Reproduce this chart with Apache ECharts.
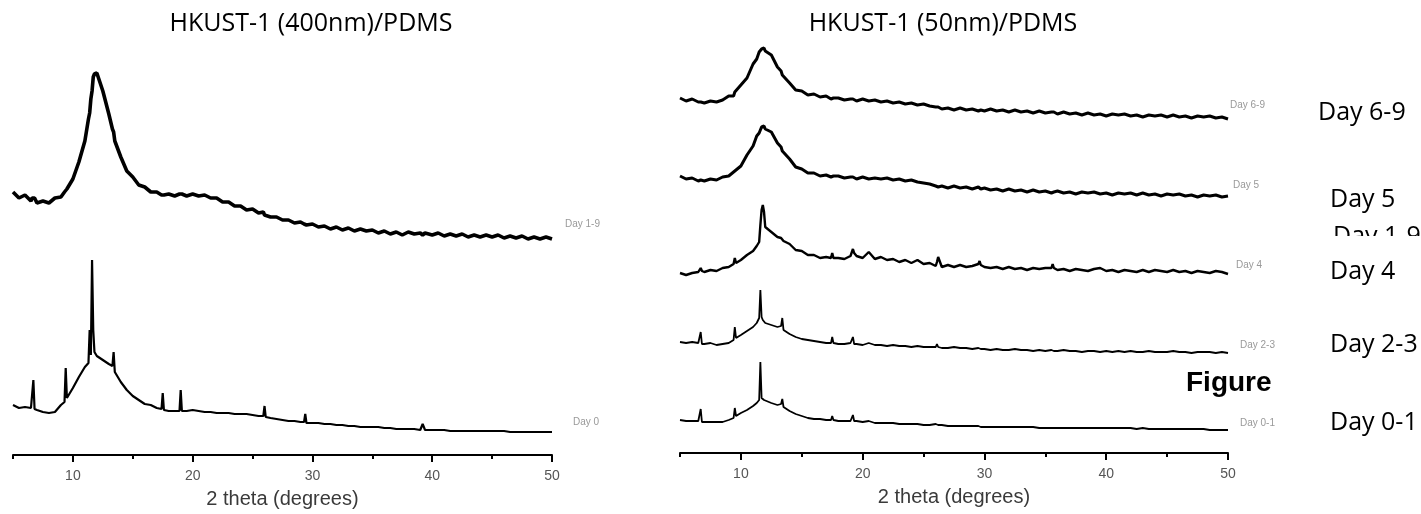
<!DOCTYPE html>
<html><head><meta charset="utf-8">
<script src="https://cdn.jsdelivr.net/npm/echarts@6/dist/echarts.min.js"></script>
<style>html,body{margin:0;padding:0;background:#fff;}#c{width:1421px;height:514px;}</style>
</head><body><div id="c"></div>
<script>
// ---- data (2θ in degrees, intensity in arbitrary offset units) ----
const xLeft = [5,5.5,6,6.5,6.6,6.7,6.8,7,7.5,8,
 8.5,9,9.3,9.4,9.5,10,10.5,11,11.3,11.4,
 11.5,11.6,11.7,11.8,12,12.5,13,13.3,13.4,13.5,
 14,14.5,15,15.5,16,16.5,17,17.4,17.5,17.6,
 18,18.5,18.9,19,19.1,19.5,20,20.5,21,21.5,
 22,22.5,23,23.5,24,24.5,25,25.5,25.9,26,
 26.1,26.5,27,27.5,28,28.5,29,29.3,29.4,29.5,
 30,30.5,31,31.5,32,32.5,33,33.5,34,34.5,
 35,35.5,36,36.5,37,37.5,38,38.5,39,39.2,
 39.4,40,40.5,41,41.5,42,42.5,43,43.5,44,
 44.5,45,45.5,46,46.5,47,47.5,48,48.5,49,
 49.5,50];
const day19 = [263,257,260,254,257,255,257,252,254,252,
 257,258,263,261,266,276,293,314,336,342,
 356,364,378,381,382,364,341,326,323,314,
 298,284,278,270,268,263,263,260,262,260,
 261,259,261,259,261,259,261,259,260,257,
 257,253,253,249,249,245,246,242,243,240,
 242,238,238,235,235,232,233,231,233,230,
 231,228,229,226,228,225,227,224,226,224,
 225,222,224,221,223,220,223,221,222,220,
 222,220,222,219,221,219,221,218,220,218,
 220,218,220,217,219,217,219,216,218,216,
 218,216];
const day0 = [50,47,48,47,48,75,46,45,43,42,
 43,50,53,87,57,67,78,88,92,125,
 100,195,125,103,99,95,91,89,103,83,
 73,65,59,55,51,50,47,46,62,45,
 44,44,44,65,44,44,45,44,43,43,
 42,42,42,41,41,41,40,39,39,49,
 38,37,36,35,34,34,33,33,41,32,
 32,32,31,31,30,30,29,29,28,28,
 28,28,27,27,26,26,26,26,25,31,
 25,25,25,25,24,24,24,24,24,24,
 24,24,24,24,23,23,23,23,23,23,
 23,23];

const xRight = [5,5.5,6,6.5,6.6,6.7,6.8,7,7.5,8,
 8.5,9,9.4,9.5,9.6,10,10.5,11,11.3,11.5,
 11.6,11.7,11.8,11.9,12,12.5,13,13.3,13.4,13.5,
 14,14.5,15,15.5,16,16.5,17,17.4,17.5,17.6,
 18,18.5,19,19.1,19.2,19.3,19.5,20,20.5,21,
 21.5,22,22.5,23,23.5,24,24.5,25,25.5,26,
 26.1,26.2,26.5,27,27.5,28,28.5,29,29.5,29.6,
 29.7,30,30.5,31,31.5,32,32.5,33,33.5,34,
 34.5,35,35.5,35.6,35.7,36,36.5,37,37.5,38,
 38.5,39,39.5,40,40.5,41,41.5,42,42.5,43,
 43.5,44,44.5,45,45.5,46,46.5,47,47.5,48,
 48.5,49,49.5,50];
const day69 = [355,352,354,351,353,351,352,350,352,351,
 353,357,357,361,360,368,375,389,394,401,
 401,404,403,405,402,398,386,382,378,377,
 370,363,362,358,359,356,357,354,356,355,
 355,353,354,352,354,353,352,354,352,353,
 351,352,350,351,349,350,348,349,347,346,
 345,346,344,345,343,345,343,344,342,344,
 343,342,344,342,343,341,343,341,342,340,
 342,340,341,340,341,339,341,339,340,338,
 340,338,339,337,339,338,339,337,338,336,
 338,337,338,336,338,336,337,335,337,336,
 337,335,336,334];
const day5 = [277,274,275,272,274,273,274,272,274,273,
 276,277,281,280,283,287,298,307,317,320,
 322,326,325,327,324,321,310,306,302,301,
 294,286,284,280,280,277,278,276,278,277,
 277,275,276,274,276,275,274,276,274,275,
 274,275,273,274,272,273,271,270,269,267,
 268,266,267,265,267,265,266,264,266,265,
 264,265,263,264,262,264,262,263,261,263,
 261,262,260,262,261,262,260,261,259,261,
 260,261,259,260,258,260,259,260,258,260,
 258,259,257,259,258,259,257,258,256,258,
 257,258,256,257];
const day4 = [180,178,180,181,182,185,182,181,183,182,
 185,186,189,195,190,193,198,202,207,211,
 228,243,248,241,226,221,216,215,217,212,
 209,203,202,198,198,195,196,195,200,195,
 195,194,197,198,204,200,197,195,201,194,
 196,193,194,191,193,190,193,189,190,187,
 191,196,186,188,186,188,186,187,189,192,
 188,186,185,186,184,186,184,185,183,185,
 184,185,185,189,185,183,184,182,184,183,
 182,184,185,182,183,181,183,182,181,183,
 181,183,182,181,183,181,182,180,182,181,
 180,182,181,179];
const day23 = [111,110,111,110,110,121,109,109,110,108,
 109,110,113,126,115,118,122,126,130,135,
 163,136,133,132,130,128,126,127,135,123,
 119,116,114,113,112,111,110,110,116,110,
 109,109,110,109,116,109,109,108,110,108,
 108,107,108,107,107,106,107,106,106,106,
 109,106,105,105,106,105,105,104,105,104,
 104,104,103,104,103,103,104,103,103,102,
 103,102,103,102,102,102,103,102,102,101,
 102,102,101,102,101,102,101,102,101,101,
 102,101,101,101,102,101,101,100,101,101,
 101,100,101,100];
const day01 = [33,32,32,32,32,44,31,31,31,31,
 31,33,35,45,37,40,43,47,50,53,
 91,55,54,53,52,50,48,49,54,46,
 42,39,37,35,34,34,33,33,37,33,
 32,32,32,32,38,32,32,31,32,30,
 30,30,30,29,29,29,29,28,28,29,
 30,28,28,27,27,27,27,27,27,26,
 26,26,26,26,26,26,26,26,26,26,
 25,25,25,26,25,25,25,25,25,25,
 25,25,25,25,25,25,25,25,24,25,
 24,24,24,24,24,24,24,24,24,24,
 23,23,23,23];

const majorTicks = [10,20,30,40,50];
const minorTicks = [5,15,25,35,45];
const panelTitles = ['HKUST-1 (400nm)/PDMS','HKUST-1 (50nm)/PDMS'];
const axisTitle = '2 theta (degrees)';
const leftNames = ['Day 1-9','Day 0'];
const rightNames = ['Day 6-9','Day 5','Day 4','Day 2-3','Day 0-1'];
const sideLabels = ['Day 6-9','Day 5','Day 1-9','Day 4','Day 2-3','Day 0-1'];
const figureWord = 'Figure';

// ---- build ----
const zip = (xs, ys) => xs.map((x, i) => [x, ys[i]]);
const chart = echarts.init(document.getElementById('c'), null, {renderer: 'canvas'});

function axesFor(g) {
  return [
    { gridIndex: g, type: 'value', min: 5, max: 50, position: 'bottom',
      name: axisTitle, nameLocation: 'middle', nameGap: 34,
      nameTextStyle: {fontFamily: 'Liberation Sans', fontSize: 20, color: '#3a3a3a'},
      axisLine: {show: true, lineStyle: {color: '#000', width: 2}},
      axisTick: {show: true, customValues: minorTicks, length: 4, lineStyle: {color: '#000', width: 2}},
      axisLabel: {show: false}, splitLine: {show: false} },
    { gridIndex: g, type: 'value', min: 5, max: 50, position: 'bottom',
      axisLine: {show: false},
      axisTick: {show: true, customValues: majorTicks, length: 7, lineStyle: {color: '#000', width: 2}},
      axisLabel: {show: true, customValues: majorTicks, margin: 14,
        fontFamily: 'Liberation Sans', fontSize: 14, color: '#555'},
      splitLine: {show: false} }
  ];
}

const lineSeries = (name, xAxisIndex, yAxisIndex, data, w) => ({
  name, type: 'line', xAxisIndex, yAxisIndex, data, showSymbol: false, symbol: 'none',
  lineStyle: {color: '#000', width: w, join: 'bevel'}, silent: true, clip: false
});

const fontTitle = '25px "Open Sans"';
const smallFont = '10px "Liberation Sans"';
const graphics = [
  {type: 'text', x: 311, y: 24, style: {text: panelTitles[0], font: fontTitle, fill: '#000', textAlign: 'center', textVerticalAlign: 'middle'}},
  {type: 'text', x: 943, y: 24, style: {text: panelTitles[1], font: fontTitle, fill: '#000', textAlign: 'center', textVerticalAlign: 'middle'}},
  // small in-plot labels
  {type: 'text', x: 565, y: 224, style: {text: leftNames[0], font: smallFont, fill: '#999', textVerticalAlign: 'middle'}},
  {type: 'text', x: 573, y: 422, style: {text: leftNames[1], font: smallFont, fill: '#999', textVerticalAlign: 'middle'}},
  {type: 'text', x: 1230, y: 105, style: {text: rightNames[0], font: smallFont, fill: '#999', textVerticalAlign: 'middle'}},
  {type: 'text', x: 1233, y: 185, style: {text: rightNames[1], font: smallFont, fill: '#999', textVerticalAlign: 'middle'}},
  {type: 'text', x: 1236, y: 265, style: {text: rightNames[2], font: smallFont, fill: '#999', textVerticalAlign: 'middle'}},
  {type: 'text', x: 1240, y: 345, style: {text: rightNames[3], font: smallFont, fill: '#999', textVerticalAlign: 'middle'}},
  {type: 'text', x: 1240, y: 423, style: {text: rightNames[4], font: smallFont, fill: '#999', textVerticalAlign: 'middle'}},
  // big side labels
  {type: 'text', x: 1318, y: 113, z: 10, style: {text: sideLabels[0], font: fontTitle, fill: '#000', textVerticalAlign: 'middle'}},
  {type: 'text', x: 1330, y: 200, z: 10, style: {text: sideLabels[1], font: fontTitle, fill: '#000', textVerticalAlign: 'middle'}},
  {type: 'text', x: 1333, y: 237, z: 10, style: {text: sideLabels[2], font: fontTitle, fill: '#000', textVerticalAlign: 'middle'}},
  {type: 'rect', z: 11, shape: {x: 1300, y: 236, width: 121, height: 60}, style: {fill: '#fff'}},
  {type: 'text', x: 1330, y: 272, z: 12, style: {text: sideLabels[3], font: fontTitle, fill: '#000', textVerticalAlign: 'middle'}},
  {type: 'text', x: 1330, y: 345, z: 12, style: {text: sideLabels[4], font: fontTitle, fill: '#000', textVerticalAlign: 'middle'}},
  {type: 'text', x: 1330, y: 423, z: 12, style: {text: sideLabels[5], font: fontTitle, fill: '#000', textVerticalAlign: 'middle'}},
  {type: 'text', x: 1186, y: 383, z: 12, style: {text: figureWord, font: 'bold 28px "Liberation Sans"', fill: '#000', textVerticalAlign: 'middle'}}
];

chart.setOption({
  animation: false,
  backgroundColor: '#fff',
  grid: [
    {left: 13, top: 55, width: 539, height: 400},
    {left: 680, top: 53, width: 548, height: 400}
  ],
  xAxis: [...axesFor(0), ...axesFor(1)],
  yAxis: [
    {gridIndex: 0, type: 'value', min: 0, max: 400, show: false},
    {gridIndex: 1, type: 'value', min: 0, max: 400, show: false}
  ],
  series: [
    lineSeries(leftNames[0], 0, 0, zip(xLeft, day19), 3.6),
    lineSeries(leftNames[1], 0, 0, zip(xLeft, day0), 2.2),
    lineSeries(rightNames[0], 2, 1, zip(xRight, day69), 3),
    lineSeries(rightNames[1], 2, 1, zip(xRight, day5), 3),
    lineSeries(rightNames[2], 2, 1, zip(xRight, day4), 2.4),
    lineSeries(rightNames[3], 2, 1, zip(xRight, day23), 1.8),
    lineSeries(rightNames[4], 2, 1, zip(xRight, day01), 1.8)
  ],
  graphic: graphics
});
</script></body></html>
